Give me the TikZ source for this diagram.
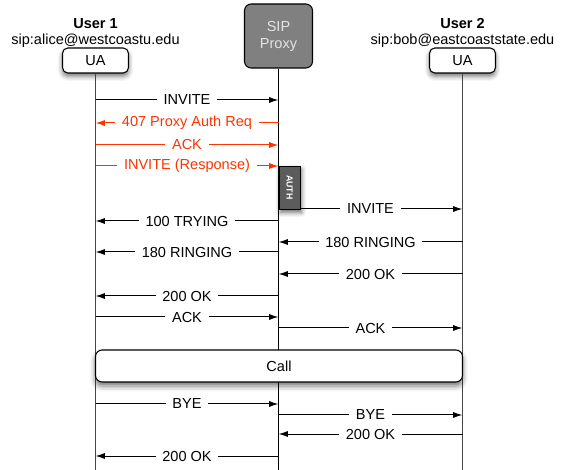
\documentclass[tikz,border=0pt]{standalone}
\usepackage{fontspec}
\setmainfont{Liberation Sans}
\usetikzlibrary{arrows.meta, shadows.blur}
\tikzset{>={Latex[length=7pt,width=4.5pt]}}
\definecolor{authred}{RGB}{255, 51, 0}
\definecolor{proxygray}{RGB}{128, 128, 128}
\definecolor{proxytext}{RGB}{228, 228, 228}
\definecolor{authgray}{RGB}{92, 92, 92}
\definecolor{lifegray}{RGB}{70, 70, 70}
\tikzset{
  ua/.style = {draw, line width=0.8pt, rounded corners=4pt, fill=white, minimum width=49.5pt, minimum height=18.75pt,
    blur shadow={shadow xshift=0pt, shadow yshift=-2.5pt, shadow blur radius=3.5pt, shadow opacity=55}},
  proxybox/.style = {draw, line width=0.8pt, rounded corners=5pt, fill=proxygray, text=proxytext, align=center,
    minimum width=51pt, minimum height=48pt},
  authbox/.style = {draw, fill=authgray, text=white, minimum width=15.75pt, minimum height=32.25pt, inner sep=0pt,
    blur shadow={shadow xshift=1pt, shadow yshift=-2.5pt, shadow blur radius=3.5pt, shadow opacity=60}},
  callbox/.style = {draw, line width=0.8pt, rounded corners=5pt, fill=white, minimum width=275.25pt, minimum height=24pt,
    blur shadow={shadow xshift=0pt, shadow yshift=-3pt, shadow blur radius=4pt, shadow opacity=55}},
  life/.style = {line width=1pt, lifegray},
  msg/.style = {->, line width=0.75pt},
  lbl/.style = {fill=white, inner xsep=5pt, inner ysep=1pt}
}

\begin{document}
\begin{tikzpicture}[x=0.75pt, y=-0.75pt, font=\fontsize{10.9}{12.8}\selectfont]
\useasboundingbox (0,0) rectangle (568,470);

% heads
\node[font=\fontsize{10.9}{12.8}\selectfont\bfseries] (user1) at (95.5,24) {User 1};
\node (addr1) at (95.5,41) {sip:alice@westcoastu.edu};
\node[font=\fontsize{10.9}{12.8}\selectfont\bfseries] (user2) at (462.5,24) {User 2};
\node (addr2) at (462.5,41) {sip:bob@eastcoaststate.edu};
\node[ua] (ua1) at (95.5,60.5) {UA};
\node[ua] (ua2) at (462.5,60.5) {UA};
\node[proxybox] (proxy) at (278.5,36) {SIP\\Proxy};

% lifelines
\coordinate (bottom) at (0,470);
\draw[life] (ua1.south) -- (ua1 |- bottom);
\draw[life] (ua2.south) -- (ua2 |- bottom);
\draw[line width=0.8pt] (proxy.south) -- (proxy |- bottom);

% messages
\foreach \a/\b/\y/\txt/\col in {
  ua1/proxy/100/INVITE/black,
  proxy/ua1/123/407 Proxy Auth Req/authred,
  ua1/proxy/145/ACK/authred,
  ua1/proxy/166/INVITE (Response)/authred,
  proxy/ua2/209/INVITE/black,
  proxy/ua1/221/100 TRYING/black,
  ua2/proxy/242/180 RINGING/black,
  proxy/ua1/252/180 RINGING/black,
  ua2/proxy/274/200 OK/black,
  proxy/ua1/296/200 OK/black,
  ua1/proxy/317/ACK/black,
  proxy/ua2/328/ACK/black,
  ua1/proxy/404/BYE/black,
  proxy/ua2/415/BYE/black,
  ua2/proxy/434/200 OK/black,
  proxy/ua1/456/200 OK/black}
  \draw[msg, draw=\col] (\a |- 0,\y) -- node[lbl, text=\col] {\txt} (\b |- 0,\y);

\node[authbox] (auth) at (289.5,187.5) {\rotatebox{-90}{\fontsize{6.6}{7}\selectfont\bfseries AUTH}};
\node[callbox] (call) at (279,366) {Call};

\end{tikzpicture}
\end{document}
